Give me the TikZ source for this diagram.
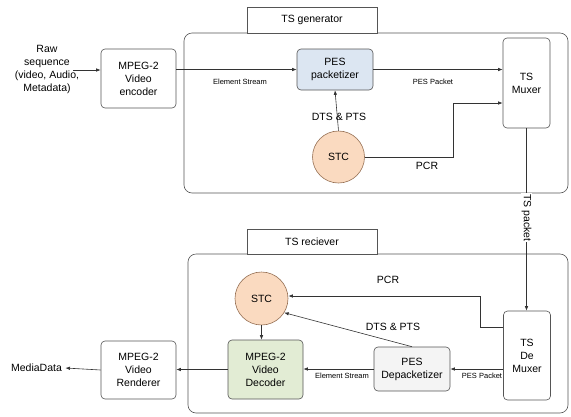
\documentclass[tikz,border=0pt]{standalone}
\usepackage{fontspec}
\setmainfont{Liberation Sans}
\usetikzlibrary{arrows.meta,calc}

\definecolor{pesblue}{RGB}{220,230,242}
\definecolor{stcfill}{RGB}{250,218,192}
\definecolor{stcline}{RGB}{150,112,84}
\definecolor{decgreen}{RGB}{226,236,212}
\definecolor{depgray}{RGB}{244,244,244}
\definecolor{edge}{RGB}{85,85,85}

\begin{document}
\begin{tikzpicture}[x=1pt,y=-1pt,
    font=\fontsize{10.5}{13}\selectfont,
    box/.style={draw=edge, line width=0.6pt, rounded corners=4pt, align=center, inner sep=0pt},
    group/.style={draw=edge, line width=0.6pt, rounded corners=8pt},
    title/.style={draw=edge, line width=0.6pt, fill=white, inner sep=0pt},
    clock/.style={circle, draw=stcline, fill=stcfill, line width=0.6pt, inner sep=0pt, minimum size=52pt},
    arr/.style={-{Latex[length=4.5pt,width=3.5pt]}, draw=black!80, line width=0.6pt},
    small/.style={font=\fontsize{7.5}{9}\selectfont}
]
    \useasboundingbox (0,0) rectangle (571,416);

    % 两个大框: 发送端 / 接收端
    \draw[group] (184,33) rectangle (568,193);
    \draw[group] (188,254) rectangle (568,413);
    \node[title, minimum width=130pt, minimum height=26pt] (gen) at (312,20) {TS generator};
    \node[title, minimum width=130pt, minimum height=25pt] (rcv) at (312,241.5) {TS reciever};

    % 发送端模块
    \node[align=center] (raw) at (47,69) {Raw\\sequence\\(video, Audio,\\Metadata)};
    \coordinate (rawend) at (73,70);
    \node[box, minimum width=75pt, minimum height=59pt] (enc) at (138.5,78.5) {MPEG-2\\Video\\encoder};
    \node[box, fill=pesblue, minimum width=76pt, minimum height=41pt] (pes) at (335,69.5) {PES\\packetizer};
    \node[box, minimum width=47pt, minimum height=90pt] (mux) at (526.5,83) {TS\\Muxer};
    \node[clock] (stc1) at (338.5,157) {STC};

    % 发送端连线
    \draw[arr] (rawend) -- (enc.west |- rawend);
    \draw[arr] (enc.east |- pes) -- (pes.west);
    \draw[arr] (pes.east) -- (mux.west |- pes);
    \draw[arr] (stc1.north) -- (pes.south);
    \coordinate (pcrbend) at (453,103);
    \draw[arr] (stc1.east) -| (pcrbend) -- (pcrbend -| mux.west);

    \node[small] at (240,82) {Element Stream};
    \node[small] at (433,82) {PES Packet};
    \node at (339,117) {DTS \& PTS};
    \node at (427,166) {PCR};

    % TS 包从发送端到接收端
    \node[box, minimum width=47pt, minimum height=89pt] (dmx) at (527,355.5) {TS\\De\\Muxer};
    \draw[arr] (mux.south) -- (mux.south |- dmx.north)
        node[pos=0.49, fill=white, inner sep=1pt, rotate=-90] {TS packet};

    % 接收端模块
    \node[box, fill=depgray, minimum width=76pt, minimum height=44pt] (dep) at (412,369) {PES\\Depacketizer};
    \node[box, fill=decgreen, minimum width=75pt, minimum height=59pt] (dec) at (265.5,369.5) {MPEG-2\\Video\\Decoder};
    \node[box, minimum width=75pt, minimum height=58pt] (ren) at (138.5,370) {MPEG-2\\Video\\Renderer};
    \node (media) at (36.5,368) {MediaData};
    \node[clock, minimum size=53pt] (stc2) at (261.5,298.5) {STC};

    % 接收端连线
    \draw[arr] (dmx.west |- dep) -- (dep.east);
    \draw[arr] (dep.west) -- (dec.east |- dep.west);
    \draw[arr] (dec.west) -- (ren.east |- dec.west);
    \draw[arr] (ren.west) -- (media.east);
    \draw[arr] (stc2.south) -- (stc2.south |- dec.north);
    \coordinate (pcrbend2) at (480,296);
    \draw[arr] ($(dmx.west)+(0,-28.5)$) -| (pcrbend2) -- (pcrbend2 -| stc2.east);
    \draw[arr] (dep.north) -- (stc2.-32);

    \node at (388,280) {PCR};
    \node at (393,327) {DTS \& PTS};
    \node[small] at (342,376) {Element Stream};
    \node[small] at (482,376) {PES Packet};

\end{tikzpicture}
\end{document}
